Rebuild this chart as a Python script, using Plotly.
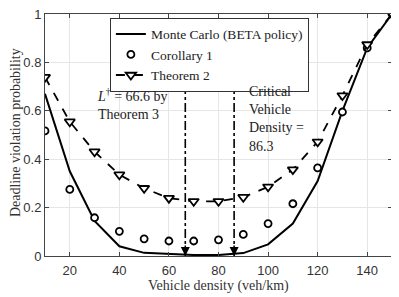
import plotly.graph_objects as go

density = [10, 20, 30, 40, 50, 60, 70, 80, 90, 100, 110, 120, 130, 140, 150]
monte_carlo = [0.67, 0.35, 0.145, 0.04, 0.013, 0.007, 0.004, 0.004, 0.012, 0.048, 0.134, 0.31, 0.60, 0.86, 1.0]
corollary1 = [0.517, 0.275, 0.158, 0.102, 0.071, 0.062, 0.062, 0.067, 0.089, 0.134, 0.216, 0.364, 0.595, 0.86, 1.0]
theorem2 = [0.739, 0.555, 0.431, 0.336, 0.28, 0.239, 0.226, 0.226, 0.243, 0.286, 0.357, 0.472, 0.663, 0.874, 1.0]

markers_x = [66.6, 86.3]
marker_top = 0.68

x_ticks = [20, 40, 60, 80, 100, 120, 140]
y_ticks = [0, 0.2, 0.4, 0.6, 0.8, 1]
y_tick_text = ["0", "0.2", "0.4", "0.6", "0.8", "1"]

serif = "Liberation Serif"
sans = "Liberation Sans"

fig = go.Figure()
fig.add_trace(go.Scatter(x=density, y=monte_carlo, mode="lines", name="Monte Carlo (BETA policy)",
                         line=dict(color="black", width=2)))
fig.add_trace(go.Scatter(x=density, y=corollary1, mode="markers", name="Corollary 1",
                         marker=dict(symbol="circle", size=7, color="white",
                                     line=dict(color="black", width=1.8))))
fig.add_trace(go.Scatter(x=density, y=theorem2, mode="lines+markers", name="Theorem 2",
                         line=dict(color="black", width=1.8, dash="dash"),
                         marker=dict(symbol="triangle-down", size=9, color="white",
                                     line=dict(color="black", width=1.8))))

for xv in markers_x:
    fig.add_trace(go.Scatter(x=[xv, xv], y=[0, marker_top], mode="lines", showlegend=False,
                             line=dict(color="black", width=1.6, dash="dashdot")))
    fig.add_annotation(x=xv, y=0, ax=xv, ay=0.05, xref="x", yref="y", axref="x", ayref="y",
                       showarrow=True, arrowhead=2, arrowsize=1.2, arrowwidth=1.5,
                       arrowcolor="black", text="")

fig.add_annotation(x=30.0, y=0.63, xref="x", yref="y", xanchor="left", yanchor="middle",
                   showarrow=False, align="left",
                   text="<i>L</i><sup>†</sup> = 66.6 by<br>Theorem 3",
                   font=dict(family=serif, size=14, color="#222"))
fig.add_annotation(x=91.5, y=0.566, xref="x", yref="y", xanchor="left", yanchor="middle",
                   showarrow=False, align="left",
                   text="Critical<br>Vehicle<br>Density =<br>86.3",
                   font=dict(family=serif, size=14, color="#222"))

# axis titles
fig.add_annotation(x=0.5, y=-0.124, xref="paper", yref="paper", xanchor="center", yanchor="middle",
                   showarrow=False, text="Vehicle density (veh/km)",
                   font=dict(family=serif, size=14, color="#333"))
fig.add_annotation(x=-0.0865, y=0.512, xref="paper", yref="paper", xanchor="center", yanchor="middle",
                   showarrow=False, text="Deadline violation probability", textangle=-90,
                   font=dict(family=serif, size=14, color="#333"))

fig.update_layout(
    width=391, height=289,
    margin=dict(l=37, r=7, t=6, b=41, autoexpand=False),
    paper_bgcolor="white", plot_bgcolor="white",
    showlegend=True,
    legend=dict(x=0.187, y=0.985, xanchor="left", yanchor="top",
                bgcolor="white", bordercolor="#333", borderwidth=1,
                font=dict(family=serif, size=13.5, color="#222"),
                tracegroupgap=0, itemwidth=30),
    xaxis=dict(range=[10, 150], tickvals=x_ticks, showgrid=True, gridcolor="#e6e6e6",
               ticks="inside", ticklen=4, tickcolor="#444", showline=True, linecolor="#444",
               mirror="ticks", zeroline=False, automargin=False, ticklabelstandoff=2,
               ticklabeloverflow="allow",
               tickfont=dict(family=sans, size=13, color="#333")),
    yaxis=dict(range=[0, 1], tickvals=y_ticks, ticktext=y_tick_text, showgrid=True,
               gridcolor="#e6e6e6", ticks="inside", ticklen=4, tickcolor="#444",
               showline=True, linecolor="#444", mirror="ticks", zeroline=False, automargin=False,
               ticklabeloverflow="allow",
               tickfont=dict(family=sans, size=13, color="#333")),
)

fig.write_html("out.html")
